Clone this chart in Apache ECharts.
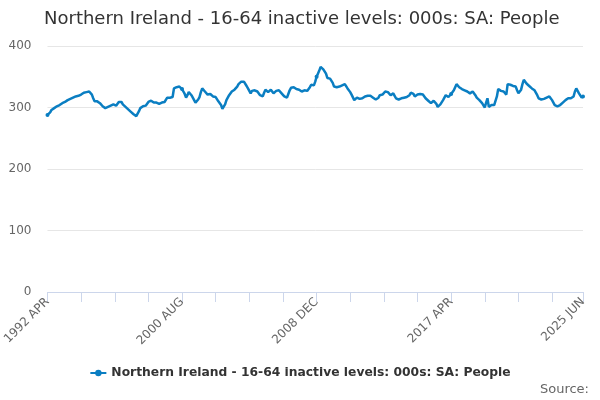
<!DOCTYPE html>
<html>
<head>
<meta charset="utf-8">
<script src="https://cdn.jsdelivr.net/npm/echarts@6/dist/echarts.min.js"></script>
<style>html,body{margin:0;padding:0;background:#fff}#c{width:600px;height:400px}</style>
</head>
<body>
<div id="c"></div>
<script>
var seriesName = "Northern Ireland - 16-64 inactive levels: 000s: SA: People";
var startYear = 1992, startMonth = 4, endYear = 2025, endMonth = 6;
var monthNames = ["JAN","FEB","MAR","APR","MAY","JUN","JUL","AUG","SEP","OCT","NOV","DEC"];
var tickLabels = ["1992 APR","2000 AUG","2008 DEC","2017 APR","2025 JUN"];
var yTicks = [0,100,200,300,400];
var values = [
288,289,292,296,297,299,301,302,303,304,
305,307,308,309,311,312,313,314,316,316,
317,318,318,319,320,321,322,324,326,325,
327,326,324,321,315,310,311,310,309,307,
304,302,300,299,300,301,302,303,304,305,
304,303,306,309,312,309,305,304,301,299,
297,295,293,291,289,287,286,290,294,299,
301,302,304,303,306,309,312,311,309,308,
309,308,307,306,307,308,307,309,312,316,
315,316,318,317,331,330,333,332,334,333,
330,326,322,316,320,325,323,320,317,312,
308,310,313,317,325,331,328,326,323,321,
323,322,320,318,316,317,314,310,307,304,
298,300,305,312,315,320,323,326,328,329,
331,334,338,341,342,340,342,340,335,331,
327,323,327,330,328,325,326,323,320,319,
318,324,329,327,325,328,329,326,323,325,
327,329,328,325,323,320,318,317,316,322,
328,332,335,333,331,330,331,329,327,326,
327,328,329,327,328,333,337,335,336,342,
350,355,360,366,364,362,361,355,348,350,
347,346,340,334,336,333,332,334,334,336,
337,338,335,331,328,325,321,318,312,315,
316,316,314,316,315,317,318,317,319,321,
319,318,316,314,313,312,316,320,323,321,
324,326,328,325,322,320,323,323,319,315,
314,313,314,315,315,316,314,317,318,320,
324,326,322,318,320,321,323,322,320,321,
318,315,312,311,308,307,309,311,312,306,
301,303,305,307,312,316,320,319,317,318,
322,325,328,333,338,336,333,331,330,329,
328,328,326,324,323,324,326,325,320,316,
314,312,310,307,304,300,308,315,301,303,
304,305,304,303,318,330,329,327,328,326,
323,321,338,336,337,337,335,336,334,328,
323,326,329,338,345,342,339,337,335,333,
331,330,328,326,320,315,314,313,315,314,
315,316,317,318,315,312,308,304,301,302,
303,304,306,308,310,312,313,315,314,315,
316,318,326,331,327,323,320,316,318
];
var categories = [];
(function(){
  var y = startYear, m = startMonth;
  while (y < endYear || (y === endYear && m <= endMonth)) {
    categories.push(y + " " + monthNames[m-1]);
    m++; if (m > 12) { m = 1; y++; }
  }
})();
var lastIdx = categories.length - 1;
var chart = echarts.init(document.getElementById('c'), null, {renderer:'canvas'});
var font = 'DejaVu Sans, Verdana, sans-serif';
chart.setOption({
  animation: false,
  backgroundColor: '#fff',
  title: {
    text: 'Northern Ireland - 16-64 inactive levels: 000s: SA: People',
    left: 39, top: 5,
    textStyle: {fontFamily: font, fontSize: 18, fontWeight: 'normal', color: '#333'}
  },
  legend: {
    bottom: 16, left: 'center',
    itemWidth: 16, itemHeight: 8, itemGap: 5,
    textStyle: {fontFamily: font, fontSize: 12.3, fontWeight: 'bold', color: '#333'},
    data: [seriesName]
  },
  graphic: [{
    type: 'text', right: 11, bottom: 4,
    style: {text: 'Source:', fill: '#666', font: '13px ' + font}
  }],
  grid: {left: 46, right: 17, top: 46, bottom: 108, containLabel: false},
  xAxis: {
    type: 'category',
    data: categories,
    boundaryGap: false,
    axisLine: {lineStyle: {color: '#ccd6eb'}},
    axisTick: {
      length: 10, lineStyle: {color: '#ccd6eb'},
      interval: function(i){ return i % 25 === 0 || i === lastIdx; }
    },
    axisLabel: {
      rotate: 45, color: '#666', fontFamily: font, fontSize: 12, margin: 8,
      interval: function(i, v){ return tickLabels.indexOf(v) >= 0; },
      showMaxLabel: true
    },
    splitLine: {show: false}
  },
  yAxis: {
    type: 'value', min: 0, max: 400, interval: 100,
    axisLine: {show: false}, axisTick: {show: false},
    axisLabel: {color: '#666', fontFamily: font, fontSize: 12, margin: 16},
    splitLine: {lineStyle: {color: '#e6e6e6'}}
  },
  series: [{
    name: seriesName,
    type: 'line',
    data: values,
    color: '#0a7ec2',
    lineStyle: {width: 2.5, color: '#0a7ec2'},
    symbol: 'circle', symbolSize: 4, showSymbol: true,
    itemStyle: {color: '#0a7ec2'}
  }]
});
</script>
</body>
</html>
